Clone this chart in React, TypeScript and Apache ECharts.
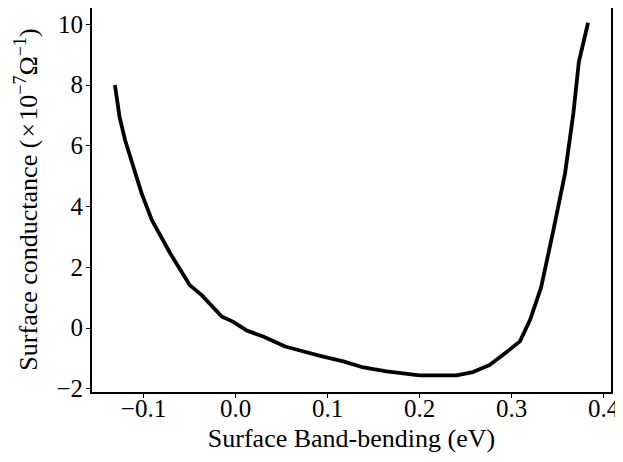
import React, { useEffect, useRef } from "react";
import * as echarts from "echarts";

const bandBending = [
  -0.131, -0.126, -0.12, -0.111, -0.102, -0.091, -0.071, -0.05, -0.037, -0.015,
  -0.003, 0.012, 0.03, 0.054, 0.07, 0.092, 0.117, 0.139, 0.164, 0.2, 0.24,
  0.258, 0.276, 0.29, 0.309, 0.32, 0.332, 0.345, 0.358, 0.367, 0.373, 0.383,
];
const conductance = [
  8.0, 6.95, 6.19, 5.31, 4.43, 3.56, 2.46, 1.42, 1.09, 0.38, 0.21, -0.08, -0.28,
  -0.61, -0.74, -0.92, -1.1, -1.3, -1.43, -1.56, -1.56, -1.45, -1.22, -0.9,
  -0.44, 0.27, 1.34, 3.17, 5.09, 7.06, 8.76, 10.05,
];
const xTicks = [-0.1, 0.0, 0.1, 0.2, 0.3, 0.4];
const yTicks = [-2, 0, 2, 4, 6, 8, 10];

const FONT = "Liberation Serif";
const FS = 25;
const NFS = 26;
const fmtMinus = (s: string) => s.replace("-", "\u2212");
const XMIN = -0.157;
const XMAX = 0.409;
const YMIN = -2.14;
const YMAX = 10.6;

export default function App() {
  const ref = useRef<HTMLDivElement>(null);
  useEffect(() => {
    if (!ref.current) return;
    const chart = echarts.init(ref.current, undefined, { renderer: "svg" });
    const frameLine = { show: true, onZero: false, lineStyle: { color: "#000", width: 2 } };
    chart.setOption({
      animation: false,
      backgroundColor: "#fff",
      grid: { left: 91, top: 6, right: 11, bottom: 69 },
      xAxis: [
        {
          type: "value",
          min: XMIN,
          max: XMAX,
          name: "Surface Band-bending (eV)",
          nameLocation: "middle",
          nameGap: 27,
          nameTextStyle: { fontFamily: FONT, fontSize: NFS, color: "#000" },
          axisLine: frameLine,
          splitLine: { show: false },
          axisTick: {
            show: true,
            customValues: xTicks,
            length: 5,
            lineStyle: { color: "#000", width: 1 },
          },
          axisLabel: {
            customValues: xTicks,
            margin: 3,
            fontFamily: FONT,
            fontSize: FS,
            color: "#000",
            formatter: (v: number) => fmtMinus(v.toFixed(1)),
          },
        },
        {
          type: "value",
          position: "top",
          min: XMIN,
          max: XMAX,
          axisLine: frameLine,
          axisTick: { show: false },
          axisLabel: { show: false },
          splitLine: { show: false },
        },
      ],
      yAxis: [
        {
          type: "value",
          min: YMIN,
          max: YMAX,
          name:
            "{n|Surface conductance (\u200a\u00d7\u200a10}{s|\u22127}{n|\u03a9}{s|\u22121}{n|)}",
          nameLocation: "middle",
          nameGap: 50,
          nameTextStyle: {
            fontFamily: FONT,
            fontSize: NFS,
            color: "#000",
            rich: {
              n: { fontFamily: FONT, fontSize: NFS, color: "#000", lineHeight: 30, verticalAlign: "bottom" },
              s: { fontFamily: FONT, fontSize: 18, color: "#000", lineHeight: 30, verticalAlign: "top" },
            },
          },
          axisLine: frameLine,
          splitLine: { show: false },
          axisTick: {
            show: true,
            customValues: yTicks,
            length: 5,
            lineStyle: { color: "#000", width: 1 },
          },
          axisLabel: {
            customValues: yTicks,
            margin: 8,
            fontFamily: FONT,
            fontSize: FS,
            color: "#000",
            formatter: (v: number) => fmtMinus(String(v)),
          },
        },
        {
          type: "value",
          position: "right",
          min: YMIN,
          max: YMAX,
          axisLine: frameLine,
          axisTick: { show: false },
          axisLabel: { show: false },
          splitLine: { show: false },
        },
      ],
      series: [
        {
          type: "line",
          data: bandBending.map((x, i) => [x, conductance[i]]),
          showSymbol: false,
          lineStyle: { color: "#000", width: 3.8 },
          smooth: false,
        },
      ],
    });
    return () => chart.dispose();
  }, []);
  return <div ref={ref} style={{ width: 623, height: 462, margin: -8 }} />;
}
